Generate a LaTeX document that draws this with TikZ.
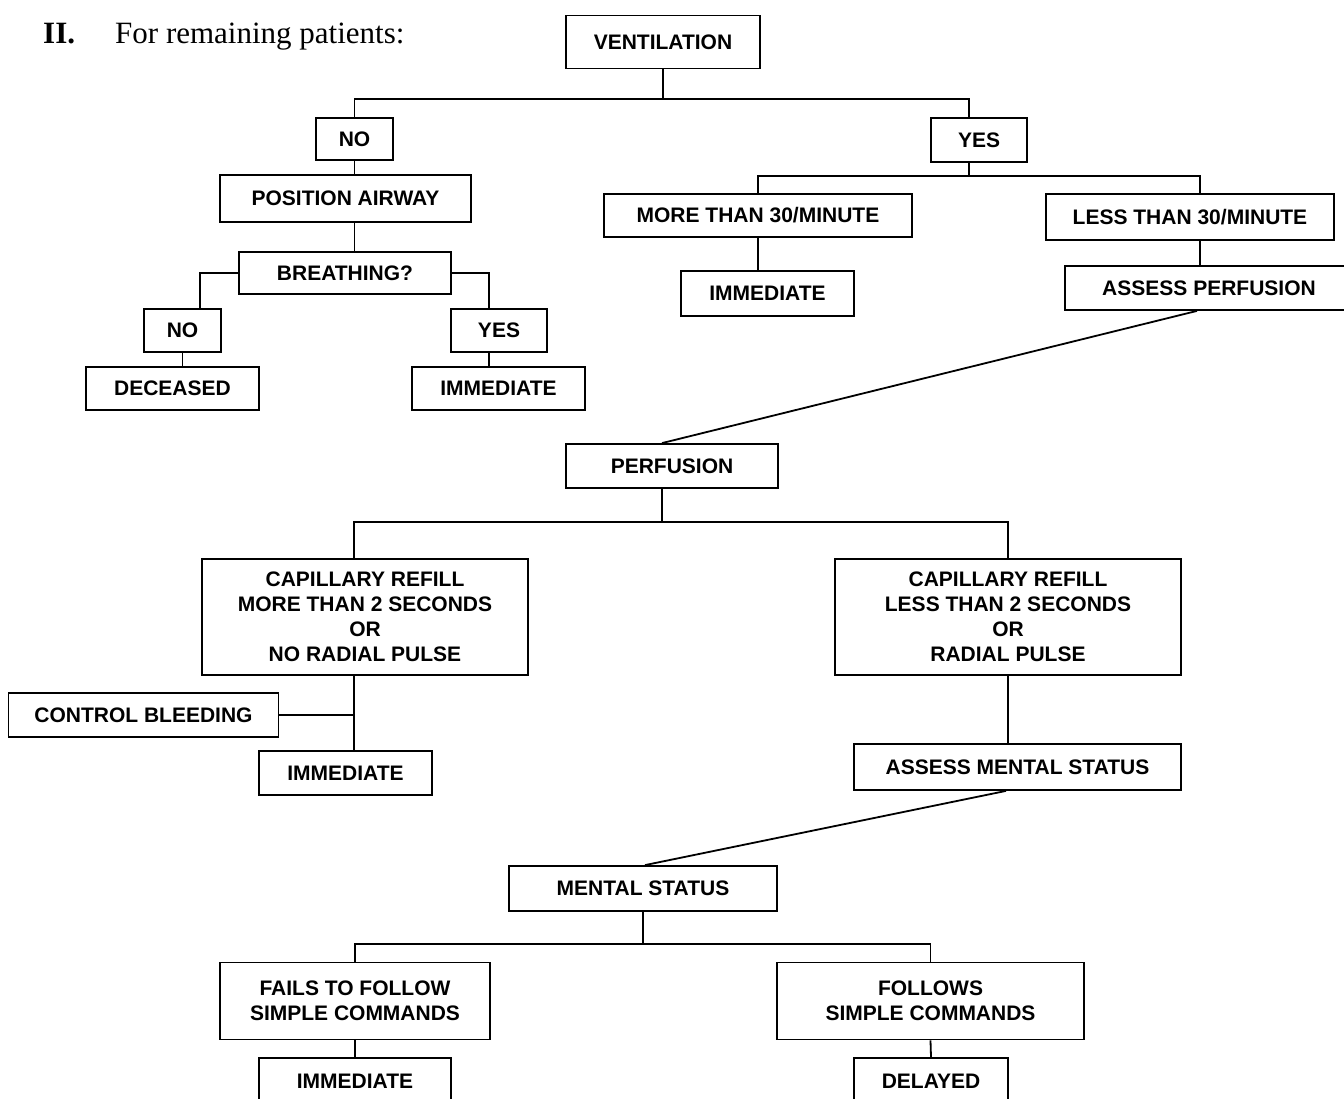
\documentclass[tikz,border=0pt]{standalone}
\usepackage{fontspec}
\setmainfont{Liberation Serif}
\newfontfamily\labelfont{Liberation Sans}
\usetikzlibrary{positioning, calc}
\tikzset{
    process/.style={rectangle, draw=black, line width=1.8pt, fill=white, align=center, inner sep=0pt, font=\labelfont\bfseries\fontsize{21}{25}\selectfont},
    link/.style={line width=1.8pt, color=black},
    heading/.style={anchor=base west, inner sep=0pt, font=\fontsize{31}{36}\selectfont}
}

\begin{document}
\begin{tikzpicture}[x=1pt, y=-1pt]
    \useasboundingbox (0,0) rectangle (1344,1099);

    % Heading
    \node (num) [heading, font=\bfseries\fontsize{31}{36}\selectfont] at (43,44) {II.};
    \node (head) [heading] at (115,44) {For remaining patients:};

    % Nodes
    \node (vent) [process, minimum width=194pt, minimum height=53pt] at (663,42) {VENTILATION};
    \node (noA) [process, minimum width=77pt, minimum height=42pt] at (354.5,139) {NO};
    \node (yesA) [process, minimum width=96pt, minimum height=44pt] at (979,140) {YES};
    \node (airway) [process, minimum width=251pt, minimum height=47pt] at (345.5,198.5) {POSITION AIRWAY};
    \node (breath) [process, minimum width=212pt, minimum height=42pt] at (345,273) {BREATHING?};
    \node (noB) [process, minimum width=77pt, minimum height=43pt] at (182.5,330.5) {NO};
    \node (dead) [process, minimum width=173pt, minimum height=43pt] at (172.5,388.5) {DECEASED};
    \node (yesB) [process, minimum width=96pt, minimum height=43pt] at (499,330.5) {YES};
    \node (immA) [process, minimum width=173pt, minimum height=43pt] at (498.5,388.5) {IMMEDIATE};
    \node (more) [process, minimum width=308pt, minimum height=43pt] at (758,215.5) {MORE THAN 30/MINUTE};
    \node (immB) [process, minimum width=173pt, minimum height=45pt] at (767.5,293.5) {IMMEDIATE};
    \node (less) [process, minimum width=288pt, minimum height=46pt] at (1190,217) {LESS THAN 30/MINUTE};
    \node (assessP) [process, minimum width=288pt, minimum height=44pt] at (1209,288) {ASSESS PERFUSION};
    \node (perf) [process, minimum width=212pt, minimum height=44pt] at (672,466) {PERFUSION};
    \node (capL) [process, minimum width=326pt, minimum height=116pt] at (365,617) {CAPILLARY REFILL\\MORE THAN 2 SECONDS\\OR\\NO RADIAL PULSE};
    \node (capR) [process, minimum width=346pt, minimum height=116pt] at (1008,617) {CAPILLARY REFILL\\LESS THAN 2 SECONDS\\OR\\RADIAL PULSE};
    \node (bleed) [process, minimum width=270pt, minimum height=44pt] at (143.5,715) {CONTROL BLEEDING};
    \node (immC) [process, minimum width=173pt, minimum height=44pt] at (345.5,773) {IMMEDIATE};
    \node (assessM) [process, minimum width=327pt, minimum height=46pt] at (1017.5,767) {ASSESS MENTAL STATUS};
    \node (mental) [process, minimum width=268pt, minimum height=45pt] at (643,888.5) {MENTAL STATUS};
    \node (fails) [process, minimum width=270pt, minimum height=77pt] at (355,1001) {FAILS TO FOLLOW\\SIMPLE COMMANDS};
    \node (follows) [process, minimum width=307pt, minimum height=77pt] at (930.5,1001) {FOLLOWS\\SIMPLE COMMANDS};
    \node (immD) [process, minimum width=192pt, minimum height=46pt] at (355,1081) {IMMEDIATE};
    \node (delayed) [process, minimum width=154pt, minimum height=46pt] at (931,1081) {DELAYED};

    % Connectors: ventilation
    \coordinate (v1) at (663,99);
    \draw [link] (vent) -- (v1);
    \draw [link] (noA.north) |- (v1) -| ($(yesA.north)+(-10,0)$);

    % no branch
    \draw [link] (noA.south) -- (noA.south |- airway.north);
    \draw [link] (noA.south |- airway.south) -- (noA.south |- breath.north);
    \draw [link] (breath.west) -| ($(noB.north)+(17.5,0)$);
    \draw [link] (breath.east) -| ($(yesB.north)+(-10,0)$);
    \draw [link] (noB.south) -- (noB.south |- dead.north);
    \coordinate (yB) at ($(yesB.south)+(-10,0)$);
    \draw [link] (yB) -- (yB |- immA.north);

    % yes branch
    \coordinate (y1) at ($(yesA.south)+(-10,0)$);
    \coordinate (y2) at ($(y1)+(0,13)$);
    \draw [link] (y1) -- (y2);
    \draw [link] (more.north) |- (y2) -| ($(less.north)+(10,0)$);
    \draw [link] (more.south) -- (more.south |- immB.north);
    \coordinate (l1) at ($(less.south)+(10,0)$);
    \draw [link] (l1) -- (l1 |- assessP.north);
    \draw [link] ($(assessP.south)+(-12,0)$) -- ($(perf.north)+(-10,0)$);

    % perfusion
    \coordinate (p1) at ($(perf.south)+(-10,0)$);
    \coordinate (p2) at ($(p1)+(0,33)$);
    \draw [link] (p1) -- (p2);
    \draw [link] ($(capL.north)+(-11,0)$) |- (p2) -| (capR.north);
    \coordinate (c1) at ($(capL.south)+(-11,0)$);
    \draw [link] (c1) -- (c1 |- immC.north);
    \draw [link] (bleed.east) -- (bleed.east -| c1);
    \draw [link] (capR.south) -- (capR.south |- assessM.north);
    \draw [link] ($(assessM.south)+(-11.5,0)$) -- ($(mental.north)+(2,0)$);

    % mental status
    \coordinate (m1) at ($(mental.south)+(0,32)$);
    \draw [link] (mental.south) -- (m1);
    \draw [link] (fails.north) |- (m1) -| (follows.north);
    \draw [link] (fails.south) -- (immD.north);
    \draw [link] (follows.south) -- (delayed.north);
\end{tikzpicture}
\end{document}
